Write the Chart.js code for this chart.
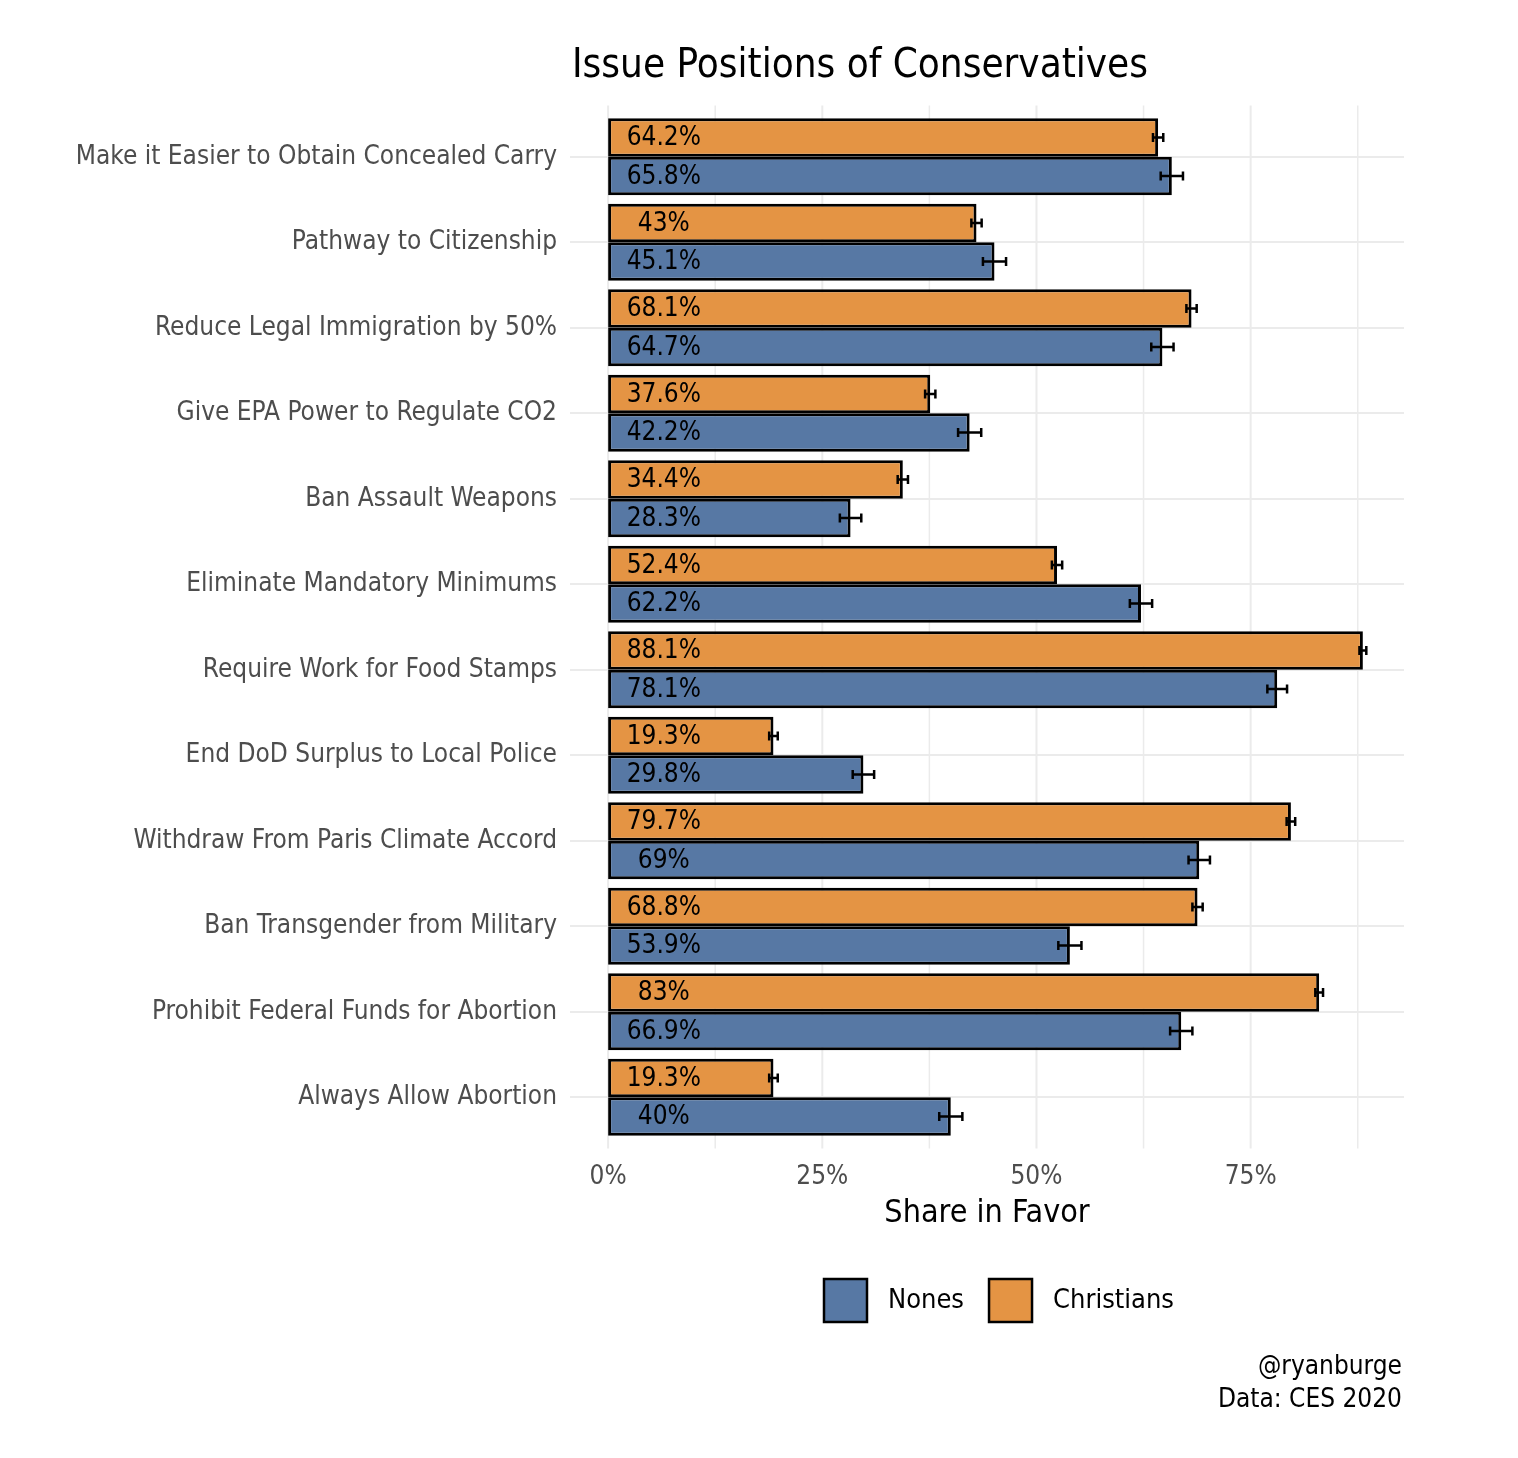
<!DOCTYPE html>
<html>
<head>
<meta charset="utf-8">
<title>Issue Positions of Conservatives</title>
<script src="https://cdn.jsdelivr.net/npm/chart.js@4.4.1/dist/chart.umd.min.js"></script>
<style>
  html, body { margin: 0; padding: 0; background: #fff; }
  #wrap { width: 1518px; height: 1458px; }
</style>
</head>
<body>
<div id="wrap"><canvas id="myChart" width="1518" height="1458"></canvas></div>
<script>
// ***** data *****
const issues = [
  "Make it Easier to Obtain Concealed Carry",
  "Pathway to Citizenship",
  "Reduce Legal Immigration by 50%",
  "Give EPA Power to Regulate CO2",
  "Ban Assault Weapons",
  "Eliminate Mandatory Minimums",
  "Require Work for Food Stamps",
  "End DoD Surplus to Local Police",
  "Withdraw From Paris Climate Accord",
  "Ban Transgender from Military",
  "Prohibit Federal Funds for Abortion",
  "Always Allow Abortion"
]
const christians = [64.2, 43, 68.1, 37.6, 34.4, 52.4, 88.1, 19.3, 79.7, 68.8, 83, 19.3]
const nones = [65.8, 45.1, 64.7, 42.2, 28.3, 62.2, 78.1, 29.8, 69, 53.9, 66.9, 40]
// half-width of the error bars (percentage points)
const christiansErr = [0.6, 0.6, 0.6, 0.6, 0.6, 0.6, 0.4, 0.5, 0.5, 0.6, 0.45, 0.5]
const nonesErr = [1.3, 1.35, 1.3, 1.35, 1.25, 1.3, 1.15, 1.25, 1.25, 1.35, 1.3, 1.35]
const xTicks = [0, 12.5, 25, 37.5, 50, 62.5, 75, 87.5]
const xLabelTicks = [0, 25, 50, 75]

const FONT = "'Liberation Sans Narrow', 'DejaVu Sans Condensed', 'Roboto', sans-serif"
const blue = "#5778a4"
const orange = "#e49444"
const gridColor = "#ebebeb"
const labelAt = 6.5

// ***** plugin: grid, error bars, labels, titles, legend *****
const decor = {
  id: "decor",
  beforeDatasetsDraw(chart) {
    const {ctx, chartArea, scales} = chart
    const ext = (chartArea.bottom - chartArea.top) / issues.length * 0.1
    ctx.save()
    ctx.strokeStyle = gridColor
    xTicks.forEach(v => {
      const px = scales.x.getPixelForValue(v)
      ctx.lineWidth = xLabelTicks.includes(v) ? 2 : 1.5
      ctx.beginPath()
      ctx.moveTo(px, chartArea.top - ext)
      ctx.lineTo(px, chartArea.bottom + ext)
      ctx.stroke()
    })
    ctx.restore()
  },
  afterDatasetsDraw(chart) {
    const {ctx, scales} = chart
    const x = scales.x
    ctx.save()
    chart.data.datasets.forEach((ds, i) => {
      const meta = chart.getDatasetMeta(i)
      meta.data.forEach((bar, j) => {
        const v = ds.data[j]
        const e = ds.err[j]
        const y = bar.y
        const x1 = x.getPixelForValue(v - e)
        const x2 = x.getPixelForValue(v + e)
        ctx.strokeStyle = "#000"
        ctx.lineWidth = 2.5
        ctx.beginPath()
        ctx.moveTo(x1, y); ctx.lineTo(x2, y)
        ctx.moveTo(x1, y - 4.5); ctx.lineTo(x1, y + 4.5)
        ctx.moveTo(x2, y - 4.5); ctx.lineTo(x2, y + 4.5)
        ctx.stroke()

        ctx.fillStyle = "#000"
        ctx.font = "26px " + FONT
        ctx.textAlign = "center"
        ctx.textBaseline = "middle"
        ctx.fillText(v + "%", x.getPixelForValue(labelAt), y + 1)
      })
    })
    ctx.restore()
  },
  afterDraw(chart) {
    const {ctx} = chart
    ctx.save()
    // title
    ctx.fillStyle = "#000"
    ctx.textBaseline = "middle"
    ctx.textAlign = "center"
    ctx.font = "40px " + FONT
    ctx.fillText("Issue Positions of Conservatives", 860, 67)

    // legend (Nones first)
    const items = [chart.data.datasets[1], chart.data.datasets[0]]
    let lx = 824
    const ly = 1279
    ctx.font = "27px " + FONT
    ctx.textAlign = "left"
    items.forEach(ds => {
      ctx.fillStyle = ds.backgroundColor
      ctx.fillRect(lx, ly, 43, 43)
      ctx.strokeStyle = "#000"
      ctx.lineWidth = 2.5
      ctx.strokeRect(lx, ly, 43, 43)
      ctx.fillStyle = "#000"
      ctx.fillText(ds.label, lx + 64, ly + 22)
      lx += 64 + ctx.measureText(ds.label).width + 25
    })

    // caption
    ctx.textAlign = "right"
    ctx.font = "26px " + FONT
    ctx.fillText("@ryanburge", 1402, 1367)
    ctx.fillText("Data: CES 2020", 1402, 1400)
    ctx.restore()
  }
}

// ***** chart *****
const ctx = document.getElementById("myChart").getContext("2d")
const myChart = new Chart(ctx, {
  type: "bar",
  data: {
    labels: issues,
    datasets: [
      {
        label: "Christians",
        data: christians,
        err: christiansErr,
        backgroundColor: orange,
        borderColor: "#000",
        borderWidth: 3,
        borderSkipped: false
      },
      {
        label: "Nones",
        data: nones,
        err: nonesErr,
        backgroundColor: blue,
        borderColor: "#000",
        borderWidth: 3,
        borderSkipped: false
      }
    ]
  },
  options: {
    indexAxis: "y",
    responsive: false,
    animation: false,
    devicePixelRatio: 1,
    categoryPercentage: 0.9,
    barPercentage: 1,
    layout: { padding: { left: 0, right: 114, top: 114, bottom: 225 } },
    plugins: {
      legend: { display: false },
      title: { display: false },
      tooltip: { enabled: false }
    },
    scales: {
      x: {
        type: "linear",
        min: -4.45,
        max: 92.9,
        afterBuildTicks: scale => {
          scale.ticks = xTicks.map(v => ({ value: v }))
        },
        afterFit: scale => { scale.height = 93 },
        grid: { display: false },
        border: { display: false },
        ticks: {
          autoSkip: false,
          maxRotation: 0,
          padding: 14,
          color: "#4d4d4d",
          font: { family: FONT, size: 26 }
        ,
          callback: v => xLabelTicks.includes(v) ? v + "%" : ""
        },
        title: {
          display: true,
          text: "Share in Favor",
          color: "#000",
          padding: { top: 0, bottom: 0 },
          font: { family: FONT, size: 32 }
        }
      },
      y: {
        type: "category",
        offset: true,
        afterFit: scale => { scale.width = 570 },
        grid: { offset: false, color: gridColor, lineWidth: 2, drawTicks: false },
        border: { display: false },
        ticks: {
          padding: 13,
          color: "#4d4d4d",
          font: { family: FONT, size: 26 }
        }
      }
    }
  },
  plugins: [decor]
})
</script>
</body>
</html>
